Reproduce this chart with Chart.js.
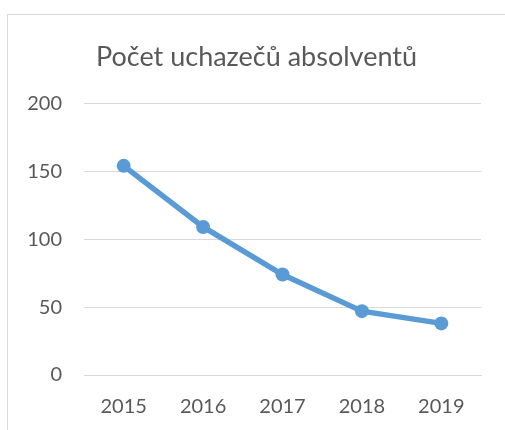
<!DOCTYPE html>
<html>
<head>
<meta charset="utf-8">
<script src="https://cdn.jsdelivr.net/npm/chart.js@4"></script>
<style>
  html, body { margin: 0; padding: 0; background: #fff; overflow: hidden; }
  #box {
    position: absolute; left: 7px; top: 14px;
    width: 520px; height: 440px;
    border: 1px solid #d9d9d9;
  }
  #wrap { position: absolute; left: 0; top: 0; width: 497px; height: 415px; }
</style>
</head>
<body>
<div id="box">
  <div id="wrap"><canvas id="chart"></canvas></div>
</div>
<script>
// Chart data
const years = ["2015", "2016", "2017", "2018", "2019"];
const applicants = [154, 109, 74, 47, 38];
const yTicks = [0, 50, 100, 150, 200];

const textColor = "#595959";
const gridColor = "#d9d9d9";
const lineColor = "#5b9bd5";

const ctx = document.getElementById("chart").getContext("2d");

new Chart(ctx, {
  type: "line",
  data: {
    labels: years,
    datasets: [
      {
        label: "Počet uchazečů absolventů",
        data: applicants,
        borderColor: lineColor,
        backgroundColor: lineColor,
        borderWidth: 5.5,
        pointRadius: 7,
        pointBackgroundColor: lineColor,
        pointBorderWidth: 0,
        tension: 0,
        fill: false,
      },
    ],
  },
  options: {
    responsive: true,
    maintainAspectRatio: false,
    animation: false,
    layout: { padding: 0 },
    plugins: {
      legend: { display: false },
      tooltip: { enabled: false },
      title: {
        display: true,
        text: "Počet uchazečů absolventů",
        color: textColor,
        font: { family: "Lato", size: 27, weight: "normal" },
        padding: { top: 26, bottom: 30 },
      },
    },
    scales: {
      x: {
        offset: true,
        grid: { display: false, drawTicks: false },
        border: { display: true, color: gridColor, width: 1 },
        ticks: {
          color: textColor,
          font: { family: "Lato", size: 20 },
          padding: 20,
          maxRotation: 0,
        },
        afterFit: function (scale) {
          scale.height = 55;
        },
      },
      y: {
        min: 0,
        max: 200,
        afterBuildTicks: function (scale) {
          scale.ticks = yTicks.map((v) => ({ value: v }));
        },
        grid: { color: gridColor, lineWidth: 1, drawTicks: false },
        border: { display: false },
        ticks: {
          color: textColor,
          font: { family: "Lato", size: 20 },
          padding: 22,
        },
        afterFit: function (scale) {
          scale.width = 76;
        },
      },
      // empty right-hand axis, only keeps space to the right of the plot
      yRight: {
        position: "right",
        display: true,
        grid: { display: false, drawTicks: false },
        border: { display: false },
        ticks: { display: false },
        afterFit: function (scale) {
          scale.width = 24;
        },
      },
    },
  },
});
</script>
</body>
</html>
